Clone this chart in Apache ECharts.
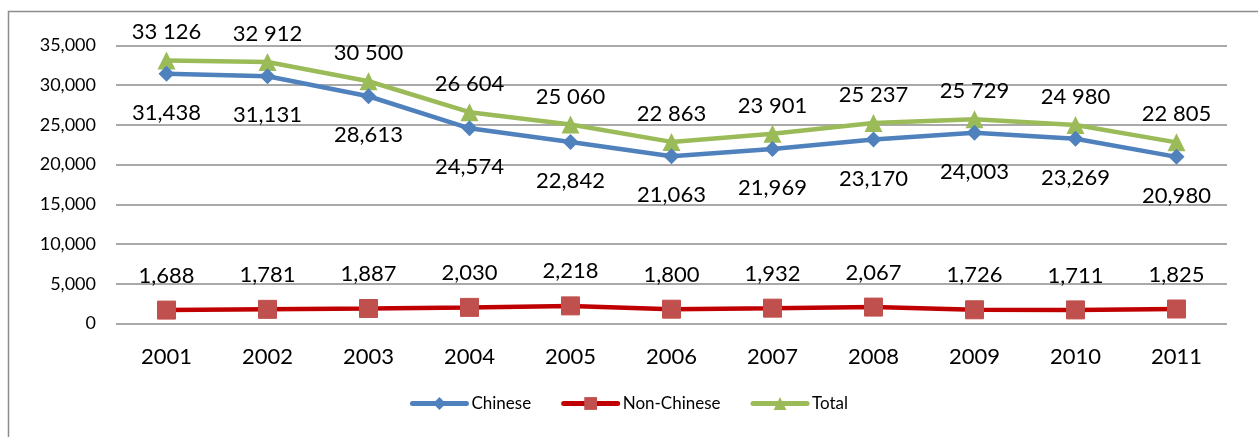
<!DOCTYPE html>
<html>
<head>
<meta charset="utf-8">
<script src="https://cdn.jsdelivr.net/npm/echarts@6/dist/echarts.min.js"></script>
<style>
  html, body { margin: 0; padding: 0; background: #fff; }
  #chart { width: 1258px; height: 437px; }
</style>
</head>
<body>
<div id="chart"></div>
<script>
// Students by year
const years = ['2001', '2002', '2003', '2004', '2005', '2006', '2007', '2008', '2009', '2010', '2011'];
const chinese = [31438, 31131, 28613, 24574, 22842, 21063, 21969, 23170, 24003, 23269, 20980];
const nonChinese = [1688, 1781, 1887, 2030, 2218, 1800, 1932, 2067, 1726, 1711, 1825];
const total = [33126, 32912, 30500, 26604, 25060, 22863, 23901, 25237, 25729, 24980, 22805];
const yTicks = [0, 5000, 10000, 15000, 20000, 25000, 30000, 35000];

const FONT = 'Lato, "Open Sans", sans-serif';
const withComma = v => String(v).replace(/\B(?=(\d{3})+(?!\d))/g, ',');
const withSpace = v => String(v).replace(/\B(?=(\d{3})+(?!\d))/g, ' ');

const chart = echarts.init(document.getElementById('chart'));
chart.setOption({
  animation: false,
  graphic: [{
    type: 'rect',
    shape: { x: 8.5, y: 11.5, width: 1400, height: 600 },
    style: { fill: 'none', stroke: '#8c8c8c', lineWidth: 1.5 },
    silent: true
  }],
  grid: { left: 116, right: 31, top: 45.5, bottom: 113.5 },
  legend: {
    bottom: 20,
    left: 'center',
    itemWidth: 54,
    itemHeight: 16,
    itemGap: 30,
    lineStyle: { width: 5, cap: 'round' },
    textStyle: { fontFamily: FONT, fontSize: 17, color: '#000' },
    data: ['Chinese', 'Non-Chinese', 'Total']
  },
  xAxis: {
    type: 'category',
    data: years,
    boundaryGap: true,
    axisLine: { show: false },
    axisTick: { show: false },
    axisLabel: { fontFamily: FONT, fontSize: 22, color: '#000', margin: 22 }
  },
  yAxis: {
    type: 'value',
    min: yTicks[0],
    max: yTicks[yTicks.length - 1],
    interval: 5000,
    axisLine: { show: false },
    axisTick: { show: false },
    splitLine: { lineStyle: { color: '#8c8c8c', width: 1.5 } },
    axisLabel: { fontFamily: FONT, fontSize: 18, color: '#000', margin: 20, formatter: v => withComma(v) }
  },
  series: [
    {
      name: 'Chinese',
      type: 'line',
      data: chinese,
      z: 3,
      symbol: 'diamond',
      symbolSize: 16,
      lineStyle: { color: '#4F81BD', width: 4.5 },
      itemStyle: { color: '#4F81BD' },
      label: {
        show: true, position: 'bottom', distance: 20,
        fontFamily: FONT, fontSize: 22, color: '#000',
        formatter: p => withComma(p.value)
      }
    },
    {
      name: 'Non-Chinese',
      type: 'line',
      data: nonChinese,
      z: 3,
      symbol: 'rect',
      symbolSize: 18,
      lineStyle: { color: '#C00000', width: 4.5 },
      itemStyle: { color: '#C0504D', borderColor: '#C0504D' },
      label: {
        show: true, position: 'top', distance: 14,
        fontFamily: FONT, fontSize: 22, color: '#000',
        formatter: p => withComma(p.value)
      }
    },
    {
      name: 'Total',
      type: 'line',
      data: total,
      z: 2,
      symbol: 'triangle',
      symbolSize: 18,
      lineStyle: { color: '#9BBB59', width: 4.5 },
      itemStyle: { color: '#9BBB59' },
      label: {
        show: true, position: 'top', distance: 8,
        fontFamily: FONT, fontSize: 22, color: '#000',
        formatter: p => withSpace(p.value)
      }
    }
  ]
});
</script>
</body>
</html>
